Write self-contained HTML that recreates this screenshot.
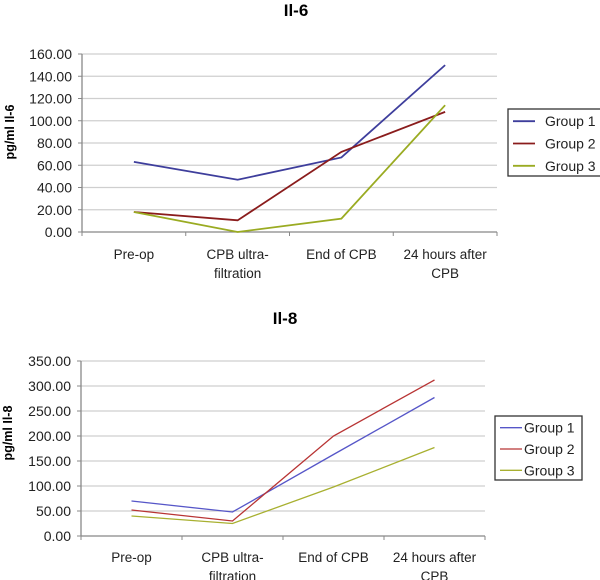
<!DOCTYPE html>
<html><head><meta charset="utf-8"><style>
body{margin:0;background:#fff;}
svg{display:block;font-family:"Liberation Sans",Arial,sans-serif;}
</style></head><body>
<svg id="c" width="600" height="580"></svg>
<script>
const categories=[["Pre-op"],["CPB ultra-","filtration"],["End of CPB"],["24 hours after","CPB"]];
const seriesNames=["Group 1","Group 2","Group 3"];
const il6G1=[63,47,67,150];
const il6G2=[18,10.5,72,108];
const il6G3=[18,0,12,114];
const il6Ticks=["0.00","20.00","40.00","60.00","80.00","100.00","120.00","140.00","160.00"];
const il8G1=[70,48,163,277];
const il8G2=[52,30,200,312];
const il8G3=[40,25,98,177];
const il8Ticks=["0.00","50.00","100.00","150.00","200.00","250.00","300.00","350.00"];

const NS="http://www.w3.org/2000/svg";
const svg=document.getElementById('c');
function mk(t,a,p){const e=document.createElementNS(NS,t);for(const k in a)e.setAttribute(k,a[k]);(p||svg).appendChild(e);return e;}

function chart(o){
  const g=mk('g',{});
  
  
  const max=parseFloat(o.ticks[o.ticks.length-1]);
  const ys=v=>o.y0-(v/max)*(o.y0-o.y1);
  const bw=(o.x1-o.x0)/categories.length;
  const xs=i=>o.x0+bw*(i+0.5);
  const t=mk('text',{x:o.tx,y:o.ty,'text-anchor':'middle','font-size':17,'font-weight':'bold',fill:'#000'},g);
  t.textContent=o.title;
  
  
  o.ticks.forEach(s=>{
    const v=parseFloat(s),y=ys(v);
    if(v>0){const l=mk('line',{x1:o.x0,x2:o.x1,y1:y,y2:y,stroke:'#cfcfcf','stroke-width':1.3},g);
      }
    mk('line',{x1:o.x0-4,x2:o.x0,y1:y,y2:y,stroke:'#888'},g);
    const tx=mk('text',{x:o.x0-10,y:y+5,'text-anchor':'end','font-size':14,fill:'#222'},g);
    tx.textContent=s;
    
  });
  mk('line',{x1:o.x0,x2:o.x0,y1:o.y1,y2:o.y0,stroke:'#888','stroke-width':1.3},g);
  mk('line',{x1:o.x0,x2:o.x1,y1:o.y0,y2:o.y0,stroke:'#888','stroke-width':1.3},g);
  for(let i=0;i<=categories.length;i++){const x=o.x0+bw*i;mk('line',{x1:x,x2:x,y1:o.y0,y2:o.y0+4,stroke:'#888'},g);}
  categories.forEach((c,i)=>{c.forEach((ln,j)=>{
    const tx=mk('text',{x:xs(i),y:o.ly+j*19,'text-anchor':'middle','font-size':13.5,fill:'#222'},g);
    tx.textContent=ln;
    });});
  const yt=mk('text',{x:0,y:0,transform:`translate(${o.ytx},${o.yty}) rotate(-90)`,'text-anchor':'middle','font-size':12.5,'font-weight':'bold',fill:'#000'},g);
  yt.textContent=o.ytitle;
  
  o.series.forEach((d,si)=>{
    const p=mk('polyline',{points:d.map((v,i)=>xs(i)+','+ys(v)).join(' '),fill:'none',stroke:o.colors[si],'stroke-width':o.sw},g);
    
    
  });
  const lg=mk('g',{},g);
  
  mk('rect',{x:o.lx,y:o.lyy,width:o.lw,height:o.lh,fill:'#fff',stroke:'#333','stroke-width':1.3},lg);
  seriesNames.forEach((n,si)=>{
    const y=o.lyy+o.lh*(si+0.5)/3+1;
    mk('line',{x1:o.lx+5,x2:o.lx+27,y1:y,y2:y,stroke:o.colors[si],'stroke-width':o.sw},lg);
    const tx=mk('text',{x:o.lx+o.ltx,y:y+5,'font-size':14,fill:'#222'},lg);
    tx.textContent=n;
    
  });
}
chart({id:'il6',title:'Il-6',tx:296,ty:16,x0:82,x1:497,y0:232,y1:54,ticks:il6Ticks,ly:259,ytitle:'pg/ml Il-6',ytx:14,yty:132,
  series:[il6G1,il6G2,il6G3],colors:['#3e3e9c','#8a1c1c','#9aab22'],sw:1.8,lx:508,lyy:109,lw:96,lh:67,ltx:37});
chart({id:'il8',title:'Il-8',tx:285,ty:324,x0:81,x1:485,y0:536,y1:361,ticks:il8Ticks,ly:562,ytitle:'pg/ml Il-8',ytx:12,yty:433,
  series:[il8G1,il8G2,il8G3],colors:['#5656c8','#b83434','#a8b030'],sw:1.3,lx:495,lyy:416,lw:87,lh:64,ltx:29});
</script>
</body></html>
